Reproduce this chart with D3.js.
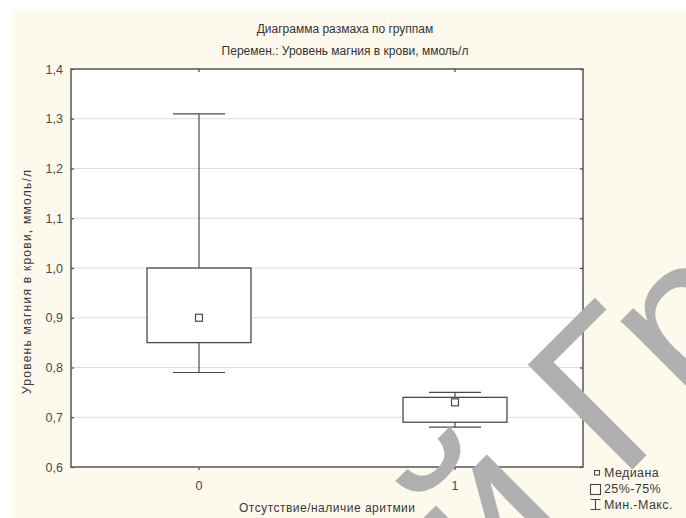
<!DOCTYPE html>
<html>
<head>
<meta charset="utf-8">
<script src="https://cdn.jsdelivr.net/npm/d3@7"></script>
<style>
  html, body { margin: 0; padding: 0; background: #ffffff; }
  svg { display: block; }
  text { font-family: "Liberation Sans", Arial, sans-serif; }
</style>
</head>
<body>
<svg id="chart" width="686" height="518"></svg>
<script>
// Groups and box-plot statistics (magnesium level, mmol/l)
const groups = ["0", "1"];
const minVals = [0.79, 0.68];
const q1Vals = [0.85, 0.69];
const medianVals = [0.90, 0.73];
const q3Vals = [1.00, 0.74];
const maxVals = [1.31, 0.75];

const yTicks = [0.6, 0.7, 0.8, 0.9, 1.0, 1.1, 1.2, 1.3, 1.4];
const legendLabels = ["Медиана", "25%-75%", "Мин.-Макс."];

const titleText = "Диаграмма размаха по группам";
const subtitleText = "Перемен.: Уровень магния в крови, ммоль/л";
const yTitle = "Уровень магния в крови, ммоль/л";
const xTitle = "Отсутствие/наличие аритмии";

const W = 686, H = 518;
const plot = { left: 71, right: 583, top: 69, bottom: 467 };
const ink = "#4d4848";

const svg = d3.select("#chart");

// panel background
svg.append("rect").attr("x", 0).attr("y", 0).attr("width", W).attr("height", H).attr("fill", "#ffffff");
svg.append("rect").attr("x", 12).attr("y", 10).attr("width", W - 12).attr("height", H - 10).attr("fill", "#fdf9ec");

const x = d3.scaleBand().domain(groups).range([plot.left, plot.right]);
const y = d3.scaleLinear().domain([0.6, 1.4]).range([plot.bottom, plot.top]);
const fmt = d => d3.format(".1f")(d).replace(".", ",");

// plot area
svg.append("rect")
  .attr("x", plot.left).attr("y", plot.top)
  .attr("width", plot.right - plot.left).attr("height", plot.bottom - plot.top)
  .attr("fill", "#ffffff");

// horizontal grid
svg.append("g").selectAll("line")
  .data(yTicks.filter(d => d > 0.6 && d < 1.4))
  .join("line")
  .attr("x1", plot.left).attr("x2", plot.right)
  .attr("y1", d => y(d)).attr("y2", d => y(d))
  .attr("stroke", "#dcdcdc").attr("stroke-width", 1);

// axes
const styleAxis = g => {
  g.select(".domain").remove();
  g.selectAll(".tick line").attr("stroke", ink).attr("stroke-width", 1.2);
  g.selectAll(".tick text").attr("fill", "#4a4a4a").attr("font-size", 12.5)
    .attr("font-family", "'Liberation Sans', Arial, sans-serif");
};

svg.append("g").attr("transform", `translate(${plot.left},0)`)
  .call(d3.axisLeft(y).tickValues(yTicks).tickFormat(fmt).tickSizeInner(-3).tickSizeOuter(0).tickPadding(8))
  .call(styleAxis);

svg.append("g").attr("transform", `translate(${plot.right},0)`)
  .call(d3.axisRight(y).tickValues(yTicks).tickFormat("").tickSizeInner(-3).tickSizeOuter(0))
  .call(styleAxis);

svg.append("g").attr("transform", `translate(0,${plot.bottom})`)
  .call(d3.axisBottom(x).tickSizeInner(3).tickSizeOuter(0).tickPadding(11))
  .call(styleAxis);

svg.append("g").attr("transform", `translate(0,${plot.top})`)
  .call(d3.axisTop(x).tickFormat("").tickSizeInner(-3).tickSizeOuter(0))
  .call(styleAxis);

// frame
svg.append("rect")
  .attr("x", plot.left).attr("y", plot.top)
  .attr("width", plot.right - plot.left).attr("height", plot.bottom - plot.top)
  .attr("fill", "none").attr("stroke", "#555555").attr("stroke-width", 1.5);

// boxes
const boxW = x.bandwidth() * 0.406;
const capW = boxW / 2;
const stats = groups.map((g, i) => ({
  g, min: minVals[i], q1: q1Vals[i], med: medianVals[i], q3: q3Vals[i], max: maxVals[i]
}));

const box = svg.append("g").selectAll("g").data(stats).join("g")
  .attr("transform", d => `translate(${x(d.g) + x.bandwidth() / 2},0)`);

box.append("line").attr("x1", 0).attr("x2", 0)
  .attr("y1", d => y(d.q3)).attr("y2", d => y(d.max))
  .attr("stroke", ink).attr("stroke-width", 1.2);
box.append("line").attr("x1", 0).attr("x2", 0)
  .attr("y1", d => y(d.q1)).attr("y2", d => y(d.min))
  .attr("stroke", ink).attr("stroke-width", 1.2);
box.append("line").attr("x1", -capW / 2).attr("x2", capW / 2)
  .attr("y1", d => y(d.max)).attr("y2", d => y(d.max))
  .attr("stroke", ink).attr("stroke-width", 1.2);
box.append("line").attr("x1", -capW / 2).attr("x2", capW / 2)
  .attr("y1", d => y(d.min)).attr("y2", d => y(d.min))
  .attr("stroke", ink).attr("stroke-width", 1.2);
box.append("rect")
  .attr("x", -boxW / 2).attr("width", boxW)
  .attr("y", d => y(d.q3)).attr("height", d => y(d.q1) - y(d.q3))
  .attr("fill", "#ffffff").attr("stroke", ink).attr("stroke-width", 1.3);
box.append("rect")
  .attr("x", -3.5).attr("width", 7)
  .attr("y", d => y(d.med) - 3.5).attr("height", 7)
  .attr("fill", "#ffffff").attr("stroke", ink).attr("stroke-width", 1.2);

// titles
svg.append("text").attr("x", 345).attr("y", 33).attr("text-anchor", "middle")
  .attr("font-size", 12).attr("fill", "#333").text(titleText);
svg.append("text").attr("x", 345).attr("y", 55).attr("text-anchor", "middle")
  .attr("font-size", 12).attr("fill", "#333").text(subtitleText);

svg.append("text")
  .attr("transform", "translate(31,282) rotate(-90)")
  .attr("text-anchor", "middle").attr("font-size", 12)
  .attr("textLength", 224).attr("lengthAdjust", "spacing")
  .attr("fill", "#3a3a3a").text(yTitle);

svg.append("text").attr("x", 327).attr("y", 512).attr("text-anchor", "middle")
  .attr("font-size", 12)
  .attr("textLength", 176).attr("lengthAdjust", "spacing")
  .attr("fill", "#3a3a3a").text(xTitle);

// site watermark
const wm = svg.append("g").attr("transform", "translate(620,482) rotate(-45)")
  .attr("font-size", 215).attr("fill", "#b0b0b0");
wm.append("text").attr("x", 0).attr("y", 0).text("Г");
wm.append("text").attr("x", 100).attr("y", 0).text("р");
wm.append("text").attr("x", -60).attr("y", 0).attr("text-anchor", "end").text("ный");

// legend
const lg = svg.append("g");
const lgBase = [477, 493, 509];
lg.selectAll("text").data(legendLabels).join("text")
  .attr("x", 604).attr("y", (d, i) => lgBase[i])
  .attr("font-size", 12.5).attr("letter-spacing", 0.4)
  .attr("fill", "#3a3a3a").text(d => d);
lg.append("rect").attr("x", 594.5).attr("y", 470.5).attr("width", 5).attr("height", 4.5)
  .attr("fill", "none").attr("stroke", ink).attr("stroke-width", 1.1);
lg.append("rect").attr("x", 590.5).attr("y", 484.5).attr("width", 10).attr("height", 10)
  .attr("fill", "none").attr("stroke", ink).attr("stroke-width", 1.1);
lg.append("path").attr("d", "M590.5,499.5H600.5M595.5,499.5V509.5M590.5,509.5H600.5")
  .attr("fill", "none").attr("stroke", ink).attr("stroke-width", 1.1);
</script>
</body>
</html>
